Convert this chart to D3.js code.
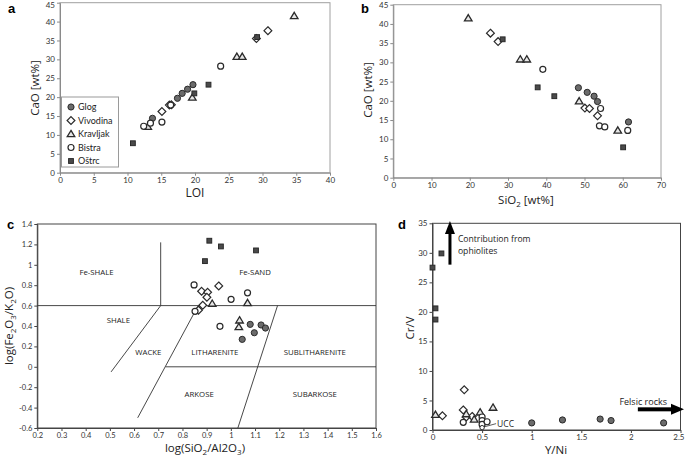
<!DOCTYPE html>
<html><head><meta charset="utf-8">
<script src="https://cdn.jsdelivr.net/npm/d3@7"></script>
<style>
html,body{margin:0;padding:0;background:#fff;}
svg{display:block;}
text{font-family:"Open Sans","DejaVu Sans",sans-serif;}
</style></head>
<body>
<svg id="chart" width="685" height="459"></svg>
<script>
// ---------- DATA ----------
const seriesNames = ["Glog","Vivodina","Kravljak","Bistra","Oštrc"];

// Panel a: LOI vs CaO [wt%]
const aGlog     = [[13.7,14.4],[17.4,19.7],[18.1,21.0],[18.9,22.1],[19.7,23.3]];
const aVivodina = [[15.1,16.2],[16.2,17.9],[16.5,18.0],[29.1,35.5],[30.8,37.6]];
const aKravljak = [[13.0,12.2],[19.6,19.9],[26.2,30.7],[27.0,30.7],[34.7,41.5]];
const aBistra   = [[12.4,12.3],[13.4,13.1],[15.1,13.4],[16.4,17.9],[23.8,28.2]];
const aOstrc    = [[10.8,7.8],[19.9,21.0],[22.0,23.3],[29.2,35.9]];
const aXTicks = [0,5,10,15,20,25,30,35,40];
const aYTicks = [0,5,10,15,20,25,30,35,40,45];

// Panel b: SiO2 [wt%] vs CaO [wt%]
const bGlog     = [[48.4,23.4],[50.7,22.2],[52.5,21.2],[53.4,19.8],[61.5,14.5]];
const bVivodina = [[25.4,37.6],[27.4,35.4],[50.1,18.1],[51.3,18.0],[53.4,16.1]];
const bKravljak = [[19.6,41.5],[33.2,30.8],[34.9,30.8],[48.6,19.9],[58.7,12.3]];
const bBistra   = [[39.1,28.2],[54.2,18.0],[53.9,13.5],[55.3,13.2],[61.3,12.3]];
const bOstrc    = [[28.6,36.0],[37.75,23.5],[42.1,21.2],[60.1,7.9]];
const bXTicks = [0,10,20,30,40,50,60,70];
const bYTicks = [0,5,10,15,20,25,30,35,40,45];

// Panel c: log(SiO2/Al2O3) vs log(Fe2O3/K2O)
const cGlog     = [[1.08,0.416],[1.125,0.41],[1.143,0.38],[1.097,0.334],[1.047,0.269]];
const cVivodina = [[0.879,0.741],[0.904,0.731],[0.901,0.682],[0.95,0.793],[0.884,0.603],[0.866,0.555]];
const cKravljak = [[0.923,0.62],[1.069,0.626],[1.036,0.456],[1.033,0.39]];
const cBistra   = [[0.848,0.803],[0.852,0.544],[1.001,0.662],[1.069,0.725],[0.955,0.397]];
const cOstrc    = [[0.911,1.236],[0.959,1.18],[1.104,1.141],[0.893,1.036]];
const cXTicks = [0.2,0.3,0.4,0.5,0.6,0.7,0.8,0.9,1,1.1,1.2,1.3,1.4,1.5,1.6];
const cYTicks = [-0.6,-0.4,-0.2,0,0.2,0.4,0.6,0.8,1,1.2,1.4];
// classification boundaries (data coords)
const cBoundaries = [
  [[0.2,0.6],[1.6,0.6]],
  [[0.71,0.6],[0.71,1.22]],
  [[0.71,0.6],[0.505,-0.05]],
  [[0.865,0.6],[0.615,-0.5]],
  [[1.193,0.6],[1.029,-0.6]],
  [[0.73,0],[1.6,0]]
];
const cFields = [
  ["Fe-SHALE",0.445,0.93],["Fe-SAND",1.10,0.93],["SHALE",0.535,0.456],
  ["WACKE",0.659,0.14],["LITHARENITE",0.934,0.14],["SUBLITHARENITE",1.347,0.14],
  ["ARKOSE",0.869,-0.265],["SUBARKOSE",1.347,-0.265]
];

// Panel d: Y/Ni vs Cr/V
const dGlog     = [[1.0,1.2],[1.31,1.7],[1.69,1.85],[1.8,1.6],[2.33,1.2]];
const dVivodina = [[0.1,2.4],[0.32,6.8],[0.31,3.4],[0.34,2.2],[0.4,2.3]];
const dKravljak = [[0.03,2.6],[0.34,2.7],[0.42,1.8],[0.48,3.0],[0.61,3.8]];
const dBistra   = [[0.31,1.3],[0.5,2.2],[0.5,1.6],[0.5,0.95],[0.55,1.4]];
const dOstrc    = [[0.0,27.5],[0.09,29.9],[0.03,20.6],[0.03,18.7]];
const dUCC      = [[0.5,0.4]];
const dXTicks = [0,0.5,1,1.5,2,2.5];
const dYTicks = [0,5,10,15,20,25,30,35];

// ---------- DRAWING ----------
const svg = d3.select("#chart");
const shapes = ["filledCircle","diamond","triangle","openCircle","square"];

function marker(g, type, x, y) {
  const ink = "#2a2a2a";
  if (type === "filledCircle") {
    g.append("circle").attr("cx",x).attr("cy",y).attr("r",3.1)
      .attr("fill","#6b6b6b").attr("stroke",ink).attr("stroke-width",1);
  } else if (type === "openCircle") {
    g.append("circle").attr("cx",x).attr("cy",y).attr("r",3.0)
      .attr("fill","#fff").attr("stroke",ink).attr("stroke-width",1.2);
  } else if (type === "diamond") {
    const s = 3.9;
    g.append("path").attr("d",`M${x},${y-s}L${x+s},${y}L${x},${y+s}L${x-s},${y}Z`)
      .attr("fill","#fff").attr("stroke",ink).attr("stroke-width",1.2);
  } else if (type === "triangle") {
    const s = 3.6;
    g.append("path").attr("d",`M${x},${y-s}L${x+s*1.05},${y+s*0.75}L${x-s*1.05},${y+s*0.75}Z`)
      .attr("fill","#e6e6e6").attr("stroke",ink).attr("stroke-width",1.3);
  } else if (type === "square") {
    const s = 2.4;
    g.append("rect").attr("x",x-s).attr("y",y-s).attr("width",2*s).attr("height",2*s)
      .attr("fill","#4a4a4a").attr("stroke",ink).attr("stroke-width",1);
  }
}

function fmt(v){ return String(+(+v).toFixed(2)); }

function panel(o) {
  const g = svg.append("g");
  const x = d3.scaleLinear().domain(o.xDom).range(o.xRange);
  const y = d3.scaleLinear().domain(o.yDom).range(o.yRange);
  g.append("rect").attr("x",o.xRange[0]).attr("y",o.yRange[1])
    .attr("width",o.xRange[1]-o.xRange[0]).attr("height",o.yRange[0]-o.yRange[1])
    .attr("fill","none").attr("stroke",o.frame).attr("stroke-width",1);
  const xa = g.append("g").attr("transform",`translate(0,${o.yRange[0]})`)
    .call(d3.axisBottom(x).tickValues(o.xTicks).tickSize(3).tickSizeOuter(0).tickFormat(fmt));
  const ya = g.append("g").attr("transform",`translate(${o.xRange[0]},0)`)
    .call(d3.axisLeft(y).tickValues(o.yTicks).tickSize(3).tickSizeOuter(0).tickFormat(fmt));
  [xa,ya].forEach(a=>{
    a.select(".domain").attr("stroke",o.axis).attr("stroke-width",1);
    a.selectAll(".tick line").attr("stroke",o.axis);
    a.selectAll(".tick text").attr("fill","#333").style("font-family","Lato, 'Open Sans', sans-serif")
      .style("font-size",o.tickFont+"px");
  });
  xa.selectAll(".tick text").attr("dy","0.9em").attr("y",3);
  ya.selectAll(".tick text").attr("x",-5);
  // keep edge labels inside the picture
  ya.selectAll(".tick text").each(function(){
    const t = d3.select(this); const ty = y(+t.datum());
    if (ty < 5) t.attr("dy", (0.32*o.tickFont + (5-ty)) + "px");
  });
  xa.selectAll(".tick text").each(function(){
    const t = d3.select(this); const tx = x(+t.datum());
    if (tx > 676) t.attr("text-anchor","end").attr("x", 684 - tx);
  });
  return {g,x,y};
}

function plotSeries(p, list) {
  list.forEach((pts,i)=>{
    pts.forEach(d=>marker(p.g, shapes[i], p.x(d[0]), p.y(d[1])));
  });
}

// ---- Panel a ----
const pa = panel({xDom:[0,40], yDom:[0,45], xRange:[60,330], yRange:[172.7,2.7],
  xTicks:aXTicks, yTicks:aYTicks, frame:"#a0a0a0", axis:"#8a8a8a", tickFont:8});
plotSeries(pa, [aGlog,aVivodina,aKravljak,aBistra,aOstrc]);
const leg = pa.g.append("g");
leg.append("rect").attr("x",61.5).attr("y",97).attr("width",57).attr("height",70)
  .attr("fill","#fff").attr("stroke","#9a9a9a").attr("stroke-width",1);
seriesNames.forEach((n,i)=>{
  const yy = 107 + i*13.5;
  marker(leg, shapes[i], 71, yy);
  leg.append("text").attr("x",78).attr("y",yy).attr("dy","0.35em")
    .style("font-family","Lato, sans-serif").style("font-size","9px").attr("fill","#222").text(n);
});
svg.append("text").attr("x",195).attr("y",197).attr("text-anchor","middle")
  .style("font-size","12px").attr("fill","#222").text("LOI");
svg.append("text").attr("transform","translate(39,88) rotate(-90)").attr("text-anchor","middle")
  .style("font-size","11.5px").attr("fill","#222").text("CaO [wt%]");
svg.append("text").attr("x",8).attr("y",13).style("font-family","Arial, 'Liberation Sans', sans-serif")
  .style("font-weight","bold").style("font-size","13px").text("a");

// ---- Panel b ----
const pb = panel({xDom:[0,70], yDom:[0,45], xRange:[393.3,661], yRange:[177.7,4.7],
  xTicks:bXTicks, yTicks:bYTicks, frame:"#a0a0a0", axis:"#8a8a8a", tickFont:8});
plotSeries(pb, [bGlog,bVivodina,bKravljak,bBistra,bOstrc]);
const tb = svg.append("text").attr("x",526).attr("y",204).attr("text-anchor","middle")
  .style("font-size","11.5px").attr("fill","#222");
tb.append("tspan").text("SiO");
tb.append("tspan").attr("dy",3).style("font-size","8px").text("2");
tb.append("tspan").attr("dy",-3).text(" [wt%]");
svg.append("text").attr("transform","translate(372,90) rotate(-90)").attr("text-anchor","middle")
  .style("font-size","11.5px").attr("fill","#222").text("CaO [wt%]");
svg.append("text").attr("x",361).attr("y",13).style("font-family","Arial, 'Liberation Sans', sans-serif")
  .style("font-weight","bold").style("font-size","13px").text("b");

// ---- Panel c ----
const pc = panel({xDom:[0.2,1.6], yDom:[-0.6,1.4], xRange:[37.3,376], yRange:[428,224],
  xTicks:cXTicks, yTicks:cYTicks, frame:"#444", axis:"#444", tickFont:7.5});
cBoundaries.forEach(l=>{
  pc.g.append("line").attr("x1",pc.x(l[0][0])).attr("y1",pc.y(l[0][1]))
    .attr("x2",pc.x(l[1][0])).attr("y2",pc.y(l[1][1]))
    .attr("stroke","#333").attr("stroke-width",0.9);
});
cFields.forEach(f=>{
  pc.g.append("text").attr("x",pc.x(f[1])).attr("y",pc.y(f[2])).attr("dy","0.35em")
    .attr("text-anchor","middle").style("font-size","7.8px").attr("fill","#222").text(f[0]);
});
plotSeries(pc, [cGlog,cVivodina,cKravljak,cBistra,cOstrc]);
const tc = svg.append("text").attr("x",205).attr("y",452).attr("text-anchor","middle")
  .style("font-size","11.5px").attr("fill","#222");
tc.append("tspan").text("log(SiO");
tc.append("tspan").attr("dy",3).style("font-size","8px").text("2");
tc.append("tspan").attr("dy",-3).text("/Al2O");
tc.append("tspan").attr("dy",3).style("font-size","8px").text("3");
tc.append("tspan").attr("dy",-3).text(")");
const tcy = svg.append("text").attr("transform","translate(13,326) rotate(-90)").attr("text-anchor","middle")
  .style("font-size","11.5px").attr("fill","#222");
tcy.append("tspan").text("log(Fe");
tcy.append("tspan").attr("dy",3).style("font-size","8px").text("2");
tcy.append("tspan").attr("dy",-3).text("O");
tcy.append("tspan").attr("dy",3).style("font-size","8px").text("3");
tcy.append("tspan").attr("dy",-3).text("/K");
tcy.append("tspan").attr("dy",3).style("font-size","8px").text("2");
tcy.append("tspan").attr("dy",-3).text("O)");
svg.append("text").attr("x",7).attr("y",229).style("font-family","Arial, 'Liberation Sans', sans-serif")
  .style("font-weight","bold").style("font-size","13px").text("c");

// ---- Panel d ----
const pd = panel({xDom:[0,2.5], yDom:[0,35], xRange:[432.5,680.5], yRange:[430,223.3],
  xTicks:dXTicks, yTicks:dYTicks, frame:"#444", axis:"#444", tickFont:8});
plotSeries(pd, [dGlog,dVivodina,dKravljak,dBistra,dOstrc]);
dUCC.forEach(d=>{
  pd.g.append("circle").attr("cx",pd.x(d[0])).attr("cy",pd.y(d[1])).attr("r",2.2)
    .attr("fill","#fff").attr("stroke","#2a2a2a").attr("stroke-width",1);
  pd.g.append("line").attr("x1",pd.x(d[0])+3).attr("y1",pd.y(d[1])-1)
    .attr("x2",pd.x(d[0])+14).attr("y2",pd.y(d[1])-4).attr("stroke","#333").attr("stroke-width",0.8);
  pd.g.append("text").attr("x",pd.x(d[0])+15).attr("y",pd.y(d[1])-4).attr("dy","0.35em")
    .style("font-size","8.5px").attr("fill","#222").text("UCC");
});
(function(){
  const ax = pd.x(0.176), y0 = pd.y(28), y1 = pd.y(35.4);
  pd.g.append("rect").attr("x",ax-1.5).attr("y",y1+10).attr("width",3).attr("height",y0-y1-10).attr("fill","#000");
  pd.g.append("path").attr("d",`M${ax},${y1}L${ax+5},${y1+13}L${ax-5},${y1+13}Z`).attr("fill","#000");
  svg.append("text").attr("x",ax+8).attr("y",239).attr("dy","0.35em")
    .style("font-size","8.6px").attr("fill","#222").text("Contribution from");
  svg.append("text").attr("x",ax+8).attr("y",251).attr("dy","0.35em")
    .style("font-size","8.6px").attr("fill","#222").text("ophiolites");
  const fy = pd.y(3.5), fx0 = pd.x(2.07), fx1 = 684;
  pd.g.append("rect").attr("x",fx0).attr("y",fy-2).attr("width",fx1-12-fx0).attr("height",4).attr("fill","#000");
  pd.g.append("path").attr("d",`M${fx1},${fy}L${fx1-13},${fy-5.5}L${fx1-13},${fy+5.5}Z`).attr("fill","#000");
  svg.append("text").attr("x",667).attr("y",fy-4).attr("text-anchor","end")
    .style("font-size","9px").attr("fill","#222").text("Felsic rocks");
})();
svg.append("text").attr("x",556).attr("y",454).attr("text-anchor","middle")
  .style("font-size","11.5px").attr("fill","#222").text("Y/Ni");
svg.append("text").attr("transform","translate(414,328) rotate(-90)").attr("text-anchor","middle")
  .style("font-size","11.5px").attr("fill","#222").text("Cr/V");
svg.append("text").attr("x",398).attr("y",229).style("font-family","Arial, 'Liberation Sans', sans-serif")
  .style("font-weight","bold").style("font-size","13px").text("d");
</script>
</body></html>
